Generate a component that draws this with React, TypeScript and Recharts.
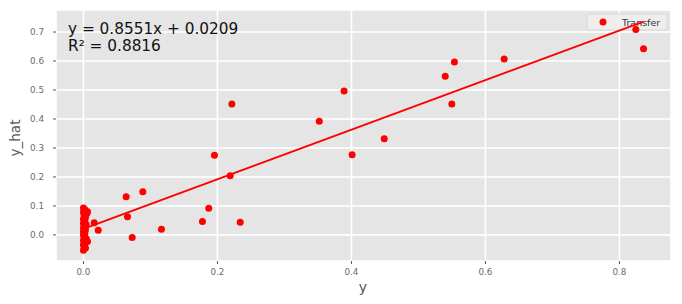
import { CartesianGrid, Customized, Scatter, ScatterChart, XAxis, YAxis } from "recharts";

// observed y (x axis) vs predicted y_hat (y axis)
const Y_TRUE = [
  0.1955, 0.219, 0.0637, 0.0886, 0.0657, 0.0727, 0.1164, 0.187, 0.1776, 0.234,
  0.016, 0.022, 0.2215, 0.352, 0.389, 0.54, 0.5537, 0.628, 0.5498, 0.449,
  0.8245, 0.836, 0.401,
  0.0, 0.002, 0.004, 0.0, 0.005, 0.001, 0.003, 0.0, 0.002, 0.0, 0.004, 0.001,
  0.0, 0.003, 0.0, 0.002, 0.0, 0.001, 0.004, 0.0, 0.005, 0.002, 0.0, 0.001,
  0.003, 0.0, 0.006, 0.006,
];
const Y_HAT = [
  0.275, 0.2045, 0.132, 0.149, 0.063, -0.009, 0.0195, 0.092, 0.046, 0.044,
  0.042, 0.016, 0.452, 0.392, 0.4966, 0.547, 0.5966, 0.607, 0.4517, 0.332,
  0.709, 0.642, 0.277,
  0.093, 0.088, 0.082, 0.078, 0.074, 0.068, 0.06, 0.055, 0.048, 0.04, 0.036, 0.03,
  0.024, 0.018, 0.012, 0.006, 0.0, -0.006, -0.012, -0.018, -0.022, -0.028, -0.034, -0.04,
  -0.045, -0.053, -0.023, 0.08,
];

const SLOPE = 0.8551;
const INTERCEPT = 0.0209;
const R2 = 0.8816;

const X_TICKS = [0, 0.2, 0.4, 0.6, 0.8];
const Y_TICKS = [0, 0.1, 0.2, 0.3, 0.4, 0.5, 0.6, 0.7];

const points = Y_TRUE.map((x, i) => ({ x, y: Y_HAT[i] }));
const xMin = Math.min(...Y_TRUE);
const xMax = Math.max(...Y_TRUE);
const fitLine = [
  { x: xMin, y: SLOPE * xMin + INTERCEPT },
  { x: xMax, y: SLOPE * xMax + INTERCEPT },
];

const tickStyle = { fontSize: 8.8, fill: "#6b6b6b", fontFamily: "DejaVu Sans" };

function Dot(props: any) {
  return <circle cx={props.cx} cy={props.cy} r={3.5} fill="#ff0000" />;
}

function Overlay() {
  return (
    <g fontFamily="DejaVu Sans">
      <text x={68} y={34} fontSize={15.3} fill="#111">
        {`y = ${SLOPE}x + ${INTERCEPT}`}
      </text>
      <text x={68} y={50.5} fontSize={15.3} fill="#111">
        {`R² = ${R2}`}
      </text>
      <text x={363} y={292} fontSize={14} fill="#555" textAnchor="middle">
        y
      </text>
      <text
        x={0}
        y={0}
        fontSize={13.5}
        fill="#555"
        textAnchor="middle"
        transform="translate(20,138) rotate(-90)"
      >
        y_hat
      </text>
      <rect
        x={587}
        y={14}
        width={80}
        height={16}
        rx={2.5}
        fill="#efefef"
        fillOpacity={0.82}
        stroke="#d4d4d4"
        strokeWidth={0.8}
      />
      <circle cx={603} cy={22} r={3.5} fill="#ff0000" />
      <text x={622} y={25.5} fontSize={9.5} fill="#333">
        Transfer
      </text>
    </g>
  );
}

export default function App() {
  return (
    <div style={{ width: 682, height: 304, background: "#fff" }}>
      <style>{"body{margin:0}"}</style>
      <ScatterChart
        width={682}
        height={304}
        margin={{ top: 10, right: 11, left: 0, bottom: 0 }}
      >
        <CartesianGrid fill="#e5e5e5" stroke="#ffffff" strokeWidth={1.6} />
        <XAxis
          type="number"
          dataKey="x"
          domain={[-0.041, 0.877]}
          ticks={X_TICKS}
          tickFormatter={(v: number) => v.toFixed(1)}
          tick={tickStyle}
          tickSize={3}
          tickMargin={5}
          tickLine={{ stroke: "#555" }}
          axisLine={false}
          height={43}
          allowDataOverflow
        />
        <YAxis
          type="number"
          dataKey="y"
          domain={[-0.09, 0.776]}
          ticks={Y_TICKS}
          tickFormatter={(v: number) => v.toFixed(1)}
          tick={tickStyle}
          tickSize={3}
          tickMargin={9}
          tickLine={{ stroke: "#555" }}
          axisLine={false}
          width={56}
          allowDataOverflow
        />
        <Scatter data={points} shape={Dot} isAnimationActive={false} />
        <Scatter
          data={fitLine}
          line={{ stroke: "#ff0000", strokeWidth: 1.9 }}
          shape={() => null}
          isAnimationActive={false}
        />
        <Customized component={Overlay} />
      </ScatterChart>
    </div>
  );
}
